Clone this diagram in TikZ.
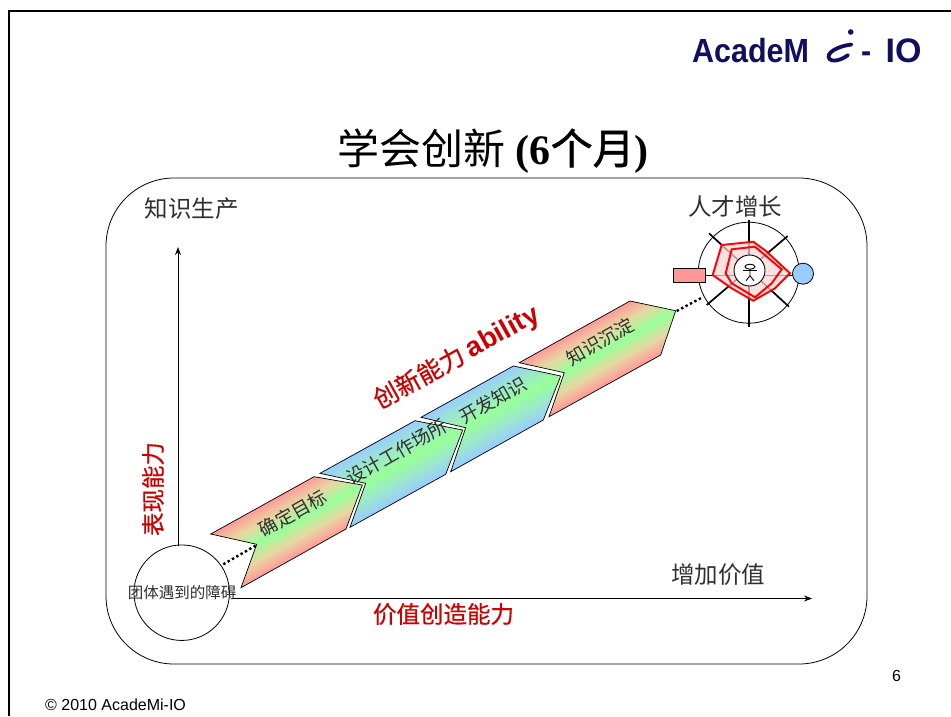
\documentclass[tikz,border=0pt]{standalone}
\usepackage{fontspec}
\usetikzlibrary{arrows.meta}
\setmainfont{Liberation Serif}
\setsansfont{Liberation Sans}
\newfontfamily\cjk{Noto Sans CJK SC}
\newfontfamily\cjkm[FakeBold=0.5]{Noto Sans CJK SC}
\newfontfamily\cjkt[FakeBold=1.2]{Noto Sans CJK SC}
\newfontfamily\logof[FakeStretch=0.91]{Liberation Sans}
\definecolor{chred}{HTML}{FF9999}
\definecolor{chgreen}{HTML}{99FF99}
\definecolor{chblue}{HTML}{99CCFF}
\definecolor{midred}{HTML}{E6D8A2}
\definecolor{midblue}{HTML}{9CE8CC}
\definecolor{lblred}{HTML}{CC0000}
\definecolor{logoblue}{HTML}{10105F}
\definecolor{txtgrey}{HTML}{303030}
\newcommand{\fs}[1]{\fontsize{#1}{#1}\selectfont}
\tikzset{
  axisline/.style={draw=black,line width=0.8pt,-{Stealth[length=8pt,width=6pt]}},
  dotline/.style={line width=2.4pt,black,dash pattern=on 2.4pt off 2.6pt},
  captext/.style={text=txtgrey,font=\cjk\fs{23.5},inner sep=0pt},
  chlabel/.style={text=txtgrey,font=\cjk\fs{18.5},inner sep=0pt,rotate=29.5},
  redlabel/.style={text=lblred,font=\cjkm\fs{23.5},inner sep=0pt},
  chedge/.style={draw=black,line width=0.7pt,line join=miter},
  spoke/.style={draw=black,line width=1.7pt},
  radarline/.style={draw=red,line width=1.9pt,line join=miter},
  figline/.style={draw=black,line width=0.9pt}
}
\begin{document}
\begin{tikzpicture}[x=1pt,y=-1pt]
\useasboundingbox (0,0) rectangle (951,716);
\fill[white] (0,0) rectangle (951,716);
% page frame
\coordinate (fa) at (9,716);
\coordinate (fb) at (9,11);
\coordinate (fc) at (951,11);
\draw[black,line width=2pt] (fa) -- (fb) -- (fc);
% logo
\node[anchor=base west,inner sep=0pt,text=logoblue,font=\logof\bfseries\fs{33.5}] (logoa) at (692,62) {AcadeM};
\node[anchor=base west,inner sep=0pt,text=logoblue,font=\logof\bfseries\fs{33.5}] (logob) at (861,62) {-};
\node[anchor=base west,inner sep=0pt,text=logoblue,font=\sffamily\bfseries\fs{34}] (logoc) at (885.5,62) {IO};
\draw[logoblue,line width=3.8pt,line cap=round] (851.5,44.5) .. controls (838,46) and (825,53) .. (829.5,59) .. controls (832,62.5) and (842,60) .. (848,55);
\fill[logoblue] (850.7,32) circle (2.8pt);
% title
\node[inner sep=0pt,anchor=base west,font=\fs{42}] (title) at (337,164) {{\cjk 学会创新} \textbf{(6}{\cjkt 个月}\textbf{)}};
% big rounded box
\draw[black,line width=0.8pt,rounded corners=68pt] (106,178) rectangle (867,664);
% axes
\coordinate (ytop) at (178,247);
\coordinate (xend) at (812,598.5);
\node[circle,draw=black,line width=0.8pt,minimum size=95.5pt,inner sep=0pt,fill=none] (team) at (181.7,592.7) {};
\draw[axisline] (178,546) -- (ytop);
\draw[axisline] (232,598.5) -- (xend);
% chevrons: gradient across the band, built from thin strips
\foreach \nm/\cc/\mm/\ax/\ay/\bx/\by/\cx/\cy/\dx/\dy/\ex/\ey/\fx/\fy in {
  a/chred/midred/210.7/534/256.7/544.3/241/587.7/346/529/362.3/485/314/476.7,
  b/chblue/midblue/320/473.3/365.7/483.3/350/527.3/445.7/474.3/462.7/430/415/420.7,
  c/chblue/midblue/421/417.3/465.7/427.7/450.7/471.7/543.3/420/560.7/376/513.3/366,
  d/chred/midred/519.3/362.7/564.3/372.7/549/416.7/660.7/355/675.7/310.7/630/301}{
  \begin{scope}
    \clip (\ax,\ay) -- (\bx,\by) -- (\cx,\cy) -- (\dx,\dy) -- (\ex,\ey) -- (\fx,\fy) -- cycle;
    \foreach \s in {-2,0,...,64}{
      \pgfmathtruncatemacro{\mixv}{min(100,abs(\s+1-31)/31*100)}
      \pgfmathtruncatemacro{\lowv}{min(100,2*\mixv)}
      \pgfmathtruncatemacro{\highv}{max(0,2*\mixv-100)}
      \pgfmathsetmacro{\pa}{\ax+0.485*\s-0.875*20}
      \pgfmathsetmacro{\pb}{\ay+0.875*\s+0.485*20}
      \pgfmathsetmacro{\qa}{\pa+0.875*240}
      \pgfmathsetmacro{\qb}{\pb-0.485*240}
      \ifnum\mixv<50
        \colorlet{stripcol}{\mm!\lowv!chgreen}
      \else
        \colorlet{stripcol}{\cc!\highv!\mm}
      \fi
      \fill[stripcol] (\pa,\pb) -- (\qa,\qb) -- ++(0.485*2.8,0.875*2.8) -- ({\pa+0.485*2.8},{\pb+0.875*2.8}) -- cycle;
    }
  \end{scope}
  \draw[chedge] (\ax,\ay) -- (\bx,\by) -- (\cx,\cy) -- (\dx,\dy) -- (\ex,\ey) -- (\fx,\fy) -- cycle;
}
% chevron labels
\node[chlabel] (l1) at (292.7,513) {确定目标};
\node[chlabel] (l2) at (396.7,452) {设计工作场所};
\node[chlabel] (l3) at (493,400) {开发知识};
\node[chlabel] (l4) at (600,341.7) {知识沉淀};
% dotted links
\coordinate (da1) at (223.3,564.3);
\coordinate (da2) at (256.7,545);
\coordinate (db1) at (676.7,311);
\coordinate (db2) at (701.7,297.7);
\draw[dotline] (da1) -- (da2);
\draw[dotline] (db1) -- (db2);
% barrier text
\node[text=txtgrey,font=\cjk\fs{15.5},inner sep=0pt] (teamlbl) at (182,593) {团体遇到的障碍};
% axis captions
\node[captext] (c1) at (191.5,208.5) {知识生产};
\node[captext] (c2) at (735,207) {人才增长};
\node[captext] (c3) at (718,574.5) {增加价值};
\node[redlabel,rotate=90] (c4) at (153,489) {表现能力};
\node[redlabel] (c5) at (443.5,614) {价值创造能力};
\node[text=lblred,font=\cjkm\fs{25},inner sep=0pt,rotate=29] (c6) at (456.7,358) {创新能力 {\sffamily\bfseries\fs{27.5}ability}};
% radar
\node[circle,draw=black,line width=0.8pt,minimum size=101pt,inner sep=0pt] (radar) at (748.7,272.7) {};
\draw[spoke] (748.7,220) -- (748.7,326.7);
\draw[spoke] (709,233.3) -- (789,306.7);
\draw[spoke] (787.7,236) -- (706.7,305);
\draw[draw=black,line width=0.8pt] (705.7,275.5) -- (793,275.5);
\fill[white!84!red,fill opacity=0.72] (721.7,245) -- (753.3,241.7) -- (766,251) -- (790,273.3) -- (775,288.3) -- (753.3,300.7) -- (731.7,288.3) -- (712.7,275) -- cycle;
\draw[radarline] (721.7,245) -- (753.3,241.7) -- (766,251) -- (790,273.3) -- (775,288.3) -- (753.3,300.7) -- (731.7,288.3) -- (712.7,275) -- cycle;
\draw[radarline] (731.7,249.3) -- (755,246.7) -- (781.7,269.3) -- (771.7,283.3) -- (755,297.3) -- (731.7,283.3) -- (725.7,273.3) -- cycle;
\node[circle,draw=black,line width=0.9pt,fill=white,minimum size=31pt,inner sep=0pt] (hub) at (749.5,270.5) {};
\draw[figline] (750,266.7) ellipse (5pt and 2.5pt);
\draw[figline] (750,269.2) -- (750,275.7) -- (746,280.7);
\draw[figline] (750,275.7) -- (754,280.7);
\draw[figline] (742.7,270) -- (757.3,270);
\node[draw=black,line width=0.8pt,fill=chred,minimum width=32.4pt,minimum height=13.6pt,inner sep=0pt] (rbox) at (689.5,275.5) {};
\node[circle,draw=black,line width=0.8pt,fill=chblue,minimum size=21pt,inner sep=0pt] (bball) at (803,273.7) {};
% page footer
\node[font=\sffamily\fs{16},inner sep=0pt] (pageno) at (896.5,676) {6};
\node[font=\sffamily\fs{16},inner sep=0pt,anchor=west] (copy) at (45,704.5) {© 2010 AcadeMi-IO};
\end{tikzpicture}
\end{document}
